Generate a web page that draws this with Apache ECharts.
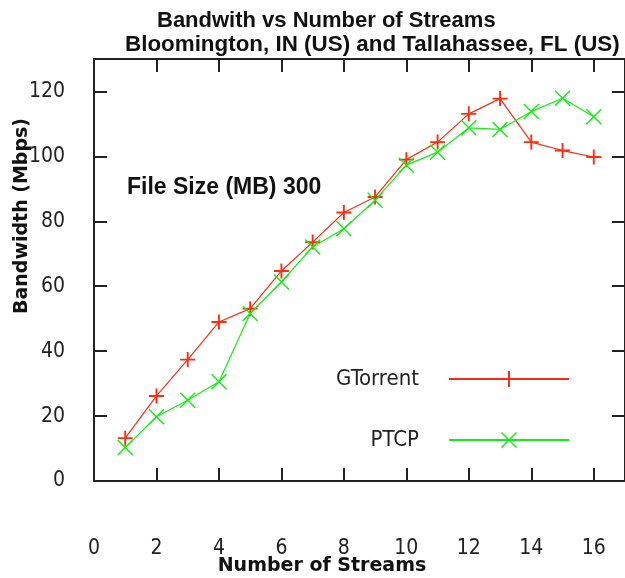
<!DOCTYPE html>
<html>
<head>
<meta charset="utf-8">
<script src="https://cdn.jsdelivr.net/npm/echarts@6/dist/echarts.min.js"></script>
<style>html,body{margin:0;padding:0;background:#fff}#chart{width:625px;height:578px}</style>
</head>
<body>
<div id="chart"></div>
<script>
// ---- data ----
var streams = [1, 2, 3, 4, 5, 6, 7, 8, 9, 10, 11, 12, 13, 14, 15, 16];
var gtorrent = [13.2, 26.2, 37.4, 49, 53.1, 64.7, 73.6, 82.7, 87.5, 99, 104.4, 113.1, 117.8, 104.4, 101.8, 99.8];
var ptcp = [10.3, 19.8, 24.9, 30.6, 51.6, 61.3, 72.1, 77.7, 86.5, 97.3, 101.3, 108.8, 108.3, 113.8, 117.9, 112.2];
var seriesNames = ['GTorrent', 'PTCP'];
var xTicks = [0, 2, 4, 6, 8, 10, 12, 14, 16];
var yTicks = [0, 20, 40, 60, 80, 100, 120];
var titleText = 'Bandwith vs Number of Streams';
var subtitleText = 'Bloomington, IN (US) and Tallahassee, FL (US)';
var noteText = 'File Size (MB) 300';
var xName = 'Number of Streams';
var yName = 'Bandwidth (Mbps)';

function pairs(xs, ys) { return xs.map(function (x, i) { return [x, ys[i]]; }); }

var plusPath = 'path://M7,0H9V16H7Z M0,7H16V9H0Z';
var crossPath = 'path://M0,1L1,0L16,15L15,16Z M15,0L16,1L1,16L0,15Z';
var narrow = "'Liberation Sans Narrow','DejaVu Sans Condensed',sans-serif";
var axisCol = '#222';

var chart = echarts.init(document.getElementById('chart'), null, {renderer: 'canvas'});
var tickCommon = {show: true, inside: true, length: 13, lineStyle: {color: axisCol, width: 2}};
var lineCommon = {show: true, onZero: false, lineStyle: {color: axisCol, width: 2}};

chart.setOption({
  animation: false,
  backgroundColor: '#fff',
  title: [
    {text: titleText, left: 157, top: 10, padding: 0,
     textStyle: {fontFamily: 'Liberation Sans', fontWeight: 'bold', fontSize: 22, color: '#111'}},
    {text: subtitleText, left: 125, top: 34, padding: 0,
     textStyle: {fontFamily: 'Liberation Sans', fontWeight: 'bold', fontSize: 22.4, color: '#111'}}
  ],
  grid: {left: 94, top: 59, width: 532, height: 422, containLabel: false},
  xAxis: [
    {type: 'value', min: 0, max: 17, interval: 2, position: 'bottom',
     axisLine: lineCommon, axisTick: tickCommon, splitLine: {show: false},
     axisLabel: {margin: 57, showMaxLabel: false, fontFamily: narrow, fontSize: 21, color: axisCol,
       formatter: function (v) { return xTicks.indexOf(v) >= 0 ? String(v) : ''; }}},
    {type: 'value', min: 0, max: 17, interval: 2, position: 'top',
     axisLine: lineCommon, axisTick: tickCommon, splitLine: {show: false}, axisLabel: {show: false}}
  ],
  yAxis: [
    {type: 'value', min: 0, max: 130, interval: 20, position: 'left',
     axisLine: lineCommon, axisTick: tickCommon, splitLine: {show: false},
     axisLabel: {margin: 29, showMaxLabel: false, fontFamily: narrow, fontSize: 21, color: axisCol,
       formatter: function (v) { return yTicks.indexOf(v) >= 0 ? String(v) : ''; }}},
    {type: 'value', min: 0, max: 130, interval: 20, position: 'right',
     axisLine: lineCommon, axisTick: tickCommon, splitLine: {show: false}, axisLabel: {show: false}}
  ],
  legend: [
    {data: [seriesNames[0]], right: 55, top: 368, padding: 0, align: 'right', orient: 'vertical',
     itemWidth: 120, itemHeight: 20, selectedMode: false,
     textStyle: {fontFamily: narrow, fontSize: 22, color: '#222', padding: [10, 25, 0, 0]}},
    {data: [seriesNames[1]], right: 55, top: 429, padding: 0, align: 'right', orient: 'vertical',
     itemWidth: 120, itemHeight: 20, selectedMode: false,
     textStyle: {fontFamily: narrow, fontSize: 22, color: '#222', padding: [10, 25, 0, 0]}}
  ],
  graphic: [
    {type: 'text', left: 127, top: 176,
     style: {text: noteText, font: "bold 23px 'Liberation Sans', Arial, sans-serif", fill: '#111'}},
    {type: 'text', x: 322, y: 566,
     style: {text: xName, font: "bold 19px 'DejaVu Sans', sans-serif", fill: '#111', textAlign: 'center', textVerticalAlign: 'middle'}},
    {type: 'text', x: 22, y: 216, rotation: Math.PI / 2,
     style: {text: yName, font: "bold 19px 'DejaVu Sans', sans-serif", fill: '#111', textAlign: 'center', textVerticalAlign: 'middle'}}
  ],
  series: [
    {name: seriesNames[0], type: 'line', data: pairs(streams, gtorrent),
     symbol: plusPath, symbolSize: 15, showAllSymbol: true,
     lineStyle: {color: '#ff2a10', width: 1.2}, itemStyle: {color: '#ff2a10'}},
    {name: seriesNames[1], type: 'line', data: pairs(streams, ptcp),
     symbol: crossPath, symbolSize: 16, showAllSymbol: true,
     lineStyle: {color: '#11ee11', width: 1.2}, itemStyle: {color: '#11ee11'}}
  ]
});
</script>
</body>
</html>
